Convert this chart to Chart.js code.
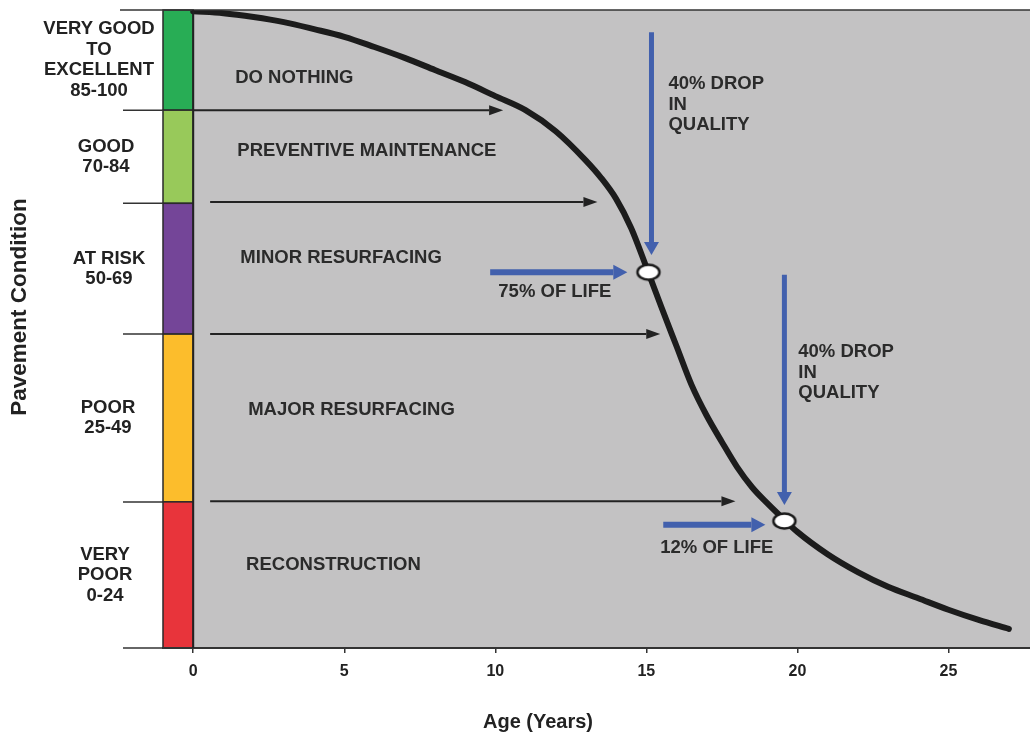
<!DOCTYPE html>
<html><head><meta charset="utf-8">
<script src="https://cdn.jsdelivr.net/npm/chart.js@4/dist/chart.umd.min.js"></script>
<style>html,body{margin:0;padding:0;background:#fff}#wrap{width:1030px;height:740px}</style>
</head><body><div id="wrap"><canvas id="c" width="1030" height="740"></canvas></div>
<script>
// ---- data ----
const ageYears  = [0, 1, 2, 3, 4, 5, 6, 7, 8, 9, 10, 11, 12, 13, 13.5, 14, 14.5, 15, 15.5, 16, 16.5, 17, 17.5, 18, 18.5, 19, 19.5, 20, 21, 22, 23, 24, 25, 26, 27];
const condition = [99.8, 99.5, 98.9, 98.1, 97.0, 95.8, 94.2, 92.5, 90.6, 88.7, 86.5, 84.3, 81.0, 76.4, 73.7, 70.4, 65.8, 59.7, 53.4, 47.3, 41.2, 36.4, 32.3, 28.4, 25.2, 22.7, 20.4, 18.2, 14.7, 11.9, 9.6, 7.8, 6.0, 4.4, 3.0];
const markerAge = [15.07, 19.57];
const markerCondition = [58.9, 19.9];
const xTickValues = [0, 5, 10, 15, 20, 25];

const bandLabels = [["VERY GOOD","TO","EXCELLENT","85-100"],["GOOD","70-84"],["AT RISK","50-69"],["POOR","25-49"],["VERY","POOR","0-24"]];
const bandTop    = [100, 84.3, 69.7, 49.2, 22.9];
const bandBottom = [84.3, 69.7, 49.2, 22.9, 0];
const bandColors = ["#28ad55", "#98c95a", "#744598", "#fcbd2c", "#e8343b"];
const bandLabelX = [99, 106, 109, 108, 105];

const actionLabels = ["DO NOTHING", "PREVENTIVE MAINTENANCE", "MINOR RESURFACING", "MAJOR RESURFACING", "RECONSTRUCTION"];
const actionAge = [1.39, 1.46, 1.56, 1.82, 1.75];
const actionCond = [89.3, 77.9, 61.1, 37.3, 13.0];

const blackArrowCond = [84.3, 69.9, 49.2, 23.0];
const blackArrowFrom = [0, 0.56, 0.56, 0.56];
const blackArrowTo   = [10.26, 13.38, 15.46, 17.95];

const dropAge  = [15.17, 19.57];
const dropFrom = [96.5, 58.5];
const dropTo   = [61.6, 22.4];
const dropTextAge = [15.73, 20.03];
const dropTextCond = [88.4, 46.4];
const dropText = ["40% DROP", "IN", "QUALITY"];

const lifeCond = [58.9, 19.3];
const lifeFrom = [9.83, 15.56];
const lifeTo   = [14.37, 18.94];
const lifeText = ["75% OF LIFE", "12% OF LIFE"];
const lifeTextAge = [10.1, 15.46];
const lifeTextCond = [55.8, 15.7];

const xTitle = "Age (Years)";
const yTitle = "Pavement Condition";

// ---- drawing ----
const FONT = '"Liberation Sans", Arial, sans-serif';
const DARK = "#2a2a2a";
const BLUE = "#4260ad";

const ell = document.createElement('canvas');
ell.width = 28; ell.height = 20;
(function(){ const g = ell.getContext('2d'); g.beginPath(); g.ellipse(14,10,11,7.5,0,0,Math.PI*2); g.fillStyle='#fff'; g.fill(); g.lineWidth=2.5; g.strokeStyle='#1a1a1a'; g.stroke(); })();

function arrow(ctx, x1, y1, x2, y2, color, lw, hl, hw){
  const a = Math.atan2(y2-y1, x2-x1);
  const bx = x2 - hl*Math.cos(a), by = y2 - hl*Math.sin(a);
  ctx.strokeStyle = color; ctx.lineWidth = lw; ctx.lineCap = 'butt';
  ctx.beginPath(); ctx.moveTo(x1,y1); ctx.lineTo(bx,by); ctx.stroke();
  ctx.fillStyle = color; ctx.beginPath(); ctx.moveTo(x2,y2);
  ctx.lineTo(bx + hw*Math.sin(a), by - hw*Math.cos(a));
  ctx.lineTo(bx - hw*Math.sin(a), by + hw*Math.cos(a));
  ctx.closePath(); ctx.fill();
}

const deco = {
  id: 'deco',
  beforeDraw(c){
    const ctx = c.ctx, X = c.scales.x, Y = c.scales.y, A = c.chartArea;
    ctx.save();
    ctx.fillStyle = '#c3c2c3';
    ctx.fillRect(X.getPixelForValue(0), A.top, A.right - X.getPixelForValue(0), A.bottom - A.top);
    for (let i = 0; i < bandColors.length; i++) {
      const x0 = X.getPixelForValue(-1), x1 = X.getPixelForValue(0);
      const y0 = Y.getPixelForValue(bandTop[i]), y1 = Y.getPixelForValue(bandBottom[i]);
      ctx.fillStyle = bandColors[i];
      ctx.fillRect(x0, y0, x1-x0, y1-y0);
      ctx.strokeStyle = DARK; ctx.lineWidth = 1.5;
      ctx.strokeRect(x0, y0, x1-x0, y1-y0);
    }
    ctx.restore();
  },
  beforeDatasetsDraw(c){
    const ctx = c.ctx, X = c.scales.x, Y = c.scales.y;
    const px = v => X.getPixelForValue(v), py = v => Y.getPixelForValue(v);
    ctx.save();
    for (let i = 0; i < blackArrowCond.length; i++) {
      arrow(ctx, px(blackArrowFrom[i]), py(blackArrowCond[i]), px(blackArrowTo[i]), py(blackArrowCond[i]), '#222', 2, 14, 5);
    }
    for (let i = 0; i < dropAge.length; i++) {
      arrow(ctx, px(dropAge[i]), py(dropFrom[i]), px(dropAge[i]), py(dropTo[i]), BLUE, 5, 13, 7.5);
      arrow(ctx, px(lifeFrom[i]), py(lifeCond[i]), px(lifeTo[i]), py(lifeCond[i]), BLUE, 6, 14, 7.5);
    }
    ctx.fillStyle = '#2b2b2b';
    ctx.font = 'bold 18.5px ' + FONT;
    ctx.textAlign = 'left'; ctx.textBaseline = 'middle';
    for (let i = 0; i < actionLabels.length; i++) ctx.fillText(actionLabels[i], px(actionAge[i]), py(actionCond[i]));
    for (let i = 0; i < dropTextAge.length; i++) {
      dropText.forEach((t, k) => ctx.fillText(t, px(dropTextAge[i]), py(dropTextCond[i]) + k*20.5));
      ctx.fillText(lifeText[i], px(lifeTextAge[i]), py(lifeTextCond[i]));
    }
    ctx.restore();
  },
  afterDraw(c){
    const ctx = c.ctx, X = c.scales.x, Y = c.scales.y, A = c.chartArea;
    const px = v => X.getPixelForValue(v), py = v => Y.getPixelForValue(v);
    ctx.save();
    ctx.strokeStyle = '#333'; ctx.lineWidth = 1.5;
    ctx.beginPath(); ctx.moveTo(120, A.top); ctx.lineTo(A.right, A.top); ctx.stroke();
    const bounds = bandTop.slice(1).concat([0]);
    bounds.forEach(b => { ctx.beginPath(); ctx.moveTo(123, py(b)); ctx.lineTo(px(-1), py(b)); ctx.stroke(); });
    ctx.strokeStyle = '#222'; ctx.lineWidth = 2;
    ctx.beginPath(); ctx.moveTo(px(0), A.top); ctx.lineTo(px(0), A.bottom); ctx.stroke();
    ctx.fillStyle = '#222';
    ctx.font = 'bold 18.5px ' + FONT;
    ctx.textAlign = 'center'; ctx.textBaseline = 'middle';
    for (let i = 0; i < bandLabels.length; i++) {
      const mid = (py(bandTop[i]) + py(bandBottom[i])) / 2;
      const n = bandLabels[i].length;
      bandLabels[i].forEach((t, k) => ctx.fillText(t, bandLabelX[i], mid + (k - (n-1)/2) * 20.5));
    }
    ctx.font = 'bold 20px ' + FONT;
    ctx.fillText(xTitle, 538, 722);
    ctx.save();
    ctx.translate(20, 307); ctx.rotate(-Math.PI/2);
    ctx.font = 'bold 22.5px ' + FONT;
    ctx.fillText(yTitle, 0, 0);
    ctx.restore();
    ctx.restore();
  }
};

new Chart(document.getElementById('c'), {
  type: 'line',
  data: {
    datasets: [
      { data: markerAge.map((x, i) => ({x, y: markerCondition[i]})), showLine: false,
        pointStyle: ell, pointRadius: 10, pointHoverRadius: 10 },
      { data: ageYears.map((x, i) => ({x, y: condition[i]})), borderColor: '#1c1c1c', borderWidth: 6,
        pointRadius: 0, cubicInterpolationMode: 'monotone', borderCapStyle: 'round', borderJoinStyle: 'round', fill: false }
    ]
  },
  options: {
    responsive: false, animation: false, devicePixelRatio: 1,
    layout: { autoPadding: false, padding: { left: 163, right: 0, top: 10, bottom: 5 } },
    plugins: { legend: { display: false }, tooltip: { enabled: false } },
    events: [],
    scales: {
      x: {
        type: 'linear', min: -1, max: 27.7,
        afterFit(s){ s.height = 87; s.paddingLeft = 0; s.paddingRight = 0; },
        afterBuildTicks(s){ s.ticks = xTickValues.map(v => ({value: v})); },
        grid: { drawOnChartArea: false, drawTicks: true, tickLength: 5, color: '#333', lineWidth: 1.5 },
        border: { display: true, color: '#333', width: 2 },
        ticks: { color: '#222', padding: 9, maxRotation: 0, font: { family: FONT, size: 16, weight: 'bold' } },
        title: { display: false }
      },
      y: { type: 'linear', min: 0, max: 100, display: false }
    }
  },
  plugins: [deco]
});
</script>
</body></html>
